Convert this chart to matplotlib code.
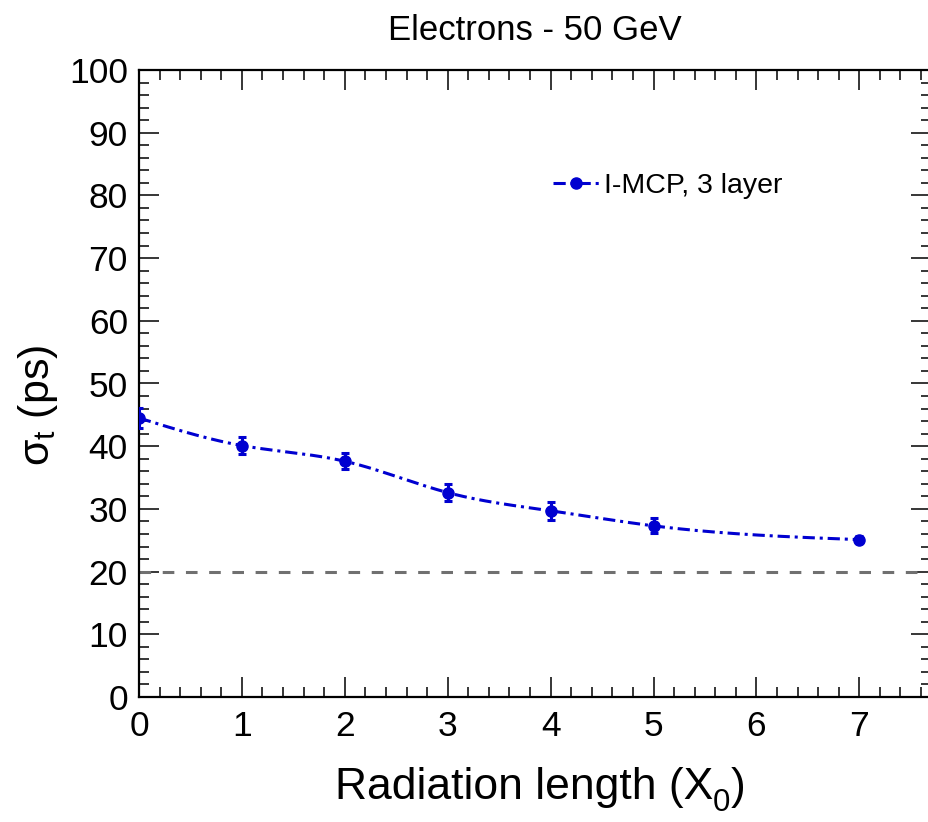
import numpy as np
import matplotlib
matplotlib.use("Agg")
import matplotlib.pyplot as plt
from matplotlib.ticker import MultipleLocator

# ---- data ----
radiation_length = [0, 1, 2, 3, 4, 5, 7]
sigma_t = [44.5, 40.1, 37.6, 32.6, 29.7, 27.3, 25.1]
sigma_err = [1.6, 1.3, 1.3, 1.4, 1.4, 1.2, 0.5]
reference_level = 20
series_label = "I-MCP, 3 layer"
title = "Electrons - 50 GeV"

plt.rcParams['font.family'] = ['Liberation Sans', 'DejaVu Sans']
plt.rcParams['mathtext.fontset'] = 'custom'
plt.rcParams['mathtext.rm'] = 'Liberation Sans'
plt.rcParams['mathtext.it'] = 'Liberation Sans'
plt.rcParams['mathtext.bf'] = 'Liberation Sans:bold'

W, H = 929, 822
fig = plt.figure(figsize=(W / 100, H / 100), dpi=100)
left, right, top, bottom = 139, 931, 70, 697
ax = fig.add_axes([left / W, 1 - bottom / H, (right - left) / W, (bottom - top) / H])
xmax = (right - left) / 102.9

blue = '#0000d0'

# smooth curve through points (display style, like ROOT "C" option)
x = np.array(radiation_length, dtype=float)
y = np.array(sigma_t, dtype=float)

def natural_spline(xk, yk, xs):
    n = len(xk)
    h = np.diff(xk)
    A = np.zeros((n, n))
    b = np.zeros(n)
    A[0, 0] = 1
    A[-1, -1] = 1
    for i in range(1, n - 1):
        A[i, i - 1] = h[i - 1]
        A[i, i] = 2 * (h[i - 1] + h[i])
        A[i, i + 1] = h[i]
        b[i] = 3 * ((yk[i + 1] - yk[i]) / h[i] - (yk[i] - yk[i - 1]) / h[i - 1])
    c = np.linalg.solve(A, b)
    out = np.empty_like(xs)
    for j, xv in enumerate(xs):
        i = min(np.searchsorted(xk, xv, side='right') - 1, n - 2)
        i = max(i, 0)
        dx = xv - xk[i]
        bb = (yk[i + 1] - yk[i]) / h[i] - h[i] * (2 * c[i] + c[i + 1]) / 3
        d = (c[i + 1] - c[i]) / (3 * h[i])
        out[j] = yk[i] + bb * dx + c[i] * dx ** 2 + d * dx ** 3
    return out

xs = np.linspace(x[0], x[-1], 400)
ys = natural_spline(x, y, xs)

dash = (0, (4.0, 1.6, 1.0, 1.6))
ax.plot(xs, ys, color=blue, lw=2.2, linestyle=dash, zorder=3)
ax.errorbar(x, y, yerr=sigma_err, fmt='none', ecolor=blue, elinewidth=2.2,
            capsize=3, capthick=2.2, zorder=4)
ax.plot(x, y, 'o', color=blue, ms=8, zorder=5)

# legend proxy
ax.plot([], [], color=blue, lw=2.2, linestyle=dash, marker='o', ms=8,
        label=series_label)

ax.axhline(reference_level, color='#707070', lw=2.2, linestyle=(0, (3.8, 3.8)), zorder=2)

ax.set_xlim(0, xmax)
ax.set_ylim(0, 100)
ax.xaxis.set_major_locator(MultipleLocator(1))
ax.xaxis.set_minor_locator(MultipleLocator(0.2))
ax.yaxis.set_major_locator(MultipleLocator(10))
ax.yaxis.set_minor_locator(MultipleLocator(2))
ax.tick_params(which='both', direction='in', top=True, right=True, width=1.1, color='black')
ax.tick_params(which='major', length=14.5)
ax.tick_params(which='minor', length=7)
ax.tick_params(axis='x', which='major', labelsize=25.5, pad=9)
ax.tick_params(axis='y', which='major', labelsize=25.5, pad=8)
for s in ax.spines.values():
    s.set_linewidth(1.6)
ax.spines['right'].set_visible(False)

# x label composed with a ROOT-style lowered subscript
renderer = fig.canvas.get_renderer()
main_fs = 32
t_main = fig.text(0, 0, "Radiation length (X", fontsize=main_fs, va='baseline', ha='left')
t_sub = fig.text(0, 0, "0", fontsize=main_fs * 0.7, va='baseline', ha='left')
t_close = fig.text(0, 0, ")", fontsize=main_fs, va='baseline', ha='left')
w_main = t_main.get_window_extent(renderer).width
w_sub = t_sub.get_window_extent(renderer).width
w_close = t_close.get_window_extent(renderer).width
total = w_main + w_sub + w_close
cx = 540
base_y = H - 799
x0 = cx - total / 2
t_main.set_position((x0 / W, base_y / H))
t_sub.set_position(((x0 + w_main) / W, (base_y - 12) / H))
t_close.set_position(((x0 + w_main + w_sub) / W, base_y / H))

fig.text(38 / W, 1 - 405 / H, r'$\sigma_{t}$ (ps)', fontsize=31, rotation=90,
         ha='center', va='center')
fig.text(535 / W, 1 - 30 / H, title, fontsize=25, ha='center', va='center')

leg = ax.legend(loc='center left', bbox_to_anchor=((553 - left) / (right - left), (bottom - 186) / (bottom - top)),
                frameon=False, fontsize=20.5, handlelength=1.6, handletextpad=0.2,
                borderpad=0, borderaxespad=0)

fig.savefig('out.png', dpi=100)
